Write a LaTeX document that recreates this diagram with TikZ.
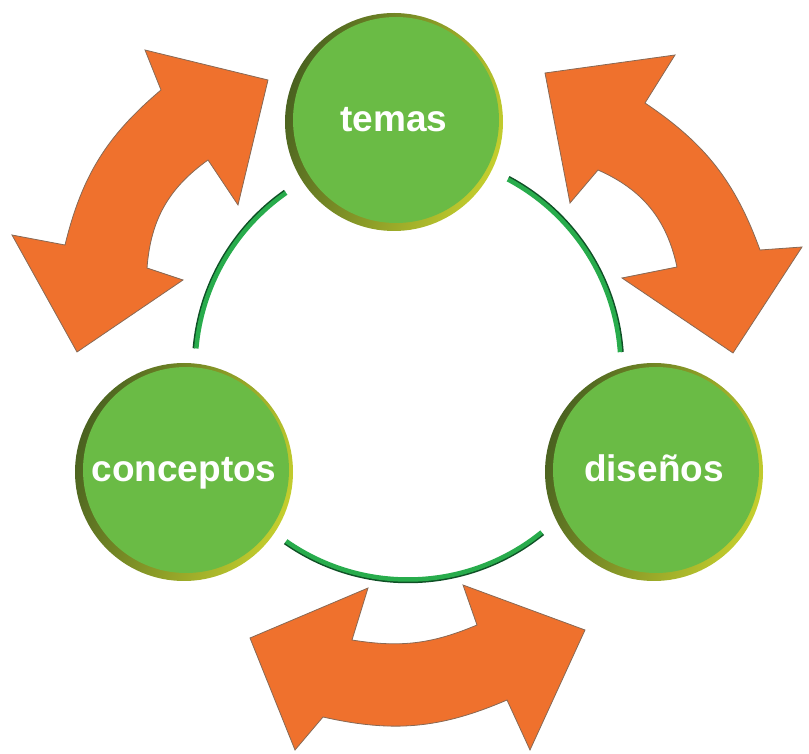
\documentclass[tikz,border=0pt]{standalone}
\usepackage{fontspec}
\usepackage{tikz}
\newfontfamily\ballfont{Liberation Sans}
\definecolor{ballgreen}{RGB}{106,187,69}
\definecolor{balldark}{RGB}{74,98,32}
\definecolor{ballyellow}{RGB}{196,206,46}
\definecolor{arroworange}{RGB}{239,113,45}
\definecolor{arrowedge}{RGB}{135,105,85}
\definecolor{ringgreen}{RGB}{40,172,76}
\definecolor{ringdark}{RGB}{15,80,38}

\begin{document}
\begin{tikzpicture}[line cap=round,line join=round,x=1pt,y=1pt,
    ball/.style={circle,minimum size=218pt,inner sep=0pt,
      left color=balldark,right color=ballyellow,shading angle=70,
      text=white,font=\ballfont\bfseries\fontsize{37}{40}\selectfont,
      text height=19pt,text depth=0pt,
      path picture={\fill [ballgreen] ([shift={(2pt,2pt)}]path picture bounding box.center) circle (103pt);}},
    bigarrow/.style={fill=arroworange,draw=arrowedge,line width=0.8pt,line join=miter},
    ringarc/.style={draw=ringdark,line width=2.5pt,line cap=butt},
    ringtop/.style={draw=ringgreen,line width=4.5pt,line cap=butt}]
        \clip(0,0) rectangle (809,753);
        % curved double arrows
        \draw [bigarrow] (161,663) -- (145,703) -- (268,673) -- (238,548) -- (208,593)
            to [bend right=25] (147,485) -- (183,473) -- (77,401) -- (12,518) -- (65,508)
            to [bend left=18] (161,663) -- cycle;
        \draw [bigarrow] (545,680) -- (675,698) -- (645,650)
            to [bend left=18] (760,503) -- (802,506) -- (733,400) -- (622,475) -- (677,486)
            to [bend right=27] (598,583) -- (570,550) -- cycle;
        \draw [bigarrow] (250,115) -- (368,165) -- (352,113)
            to [bend right=16] (477,128) -- (463,168) -- (585,123) -- (530,3) -- (507,53)
            to [bend left=18] (323,36) -- (295,3) -- cycle;
        % ring
        \coordinate (ring) at (408,386);
        \foreach \a/\b in {125/175,4/62,235/309} {
            \draw [ringarc] (ring) ++(\a:215pt) arc [start angle=\a,end angle=\b,radius=215pt];
            \draw [ringtop] (ring) ++(\a:212.5pt) arc [start angle=\a,end angle=\b,radius=212.5pt];
        }
        % balls
        \node [ball] (temas) at (394,631) {temas};
        \node [ball] (conceptos) at (184,281) {conceptos};
        \node [ball] (disenos) at (654,281) {diseños};
    \end{tikzpicture}
\end{document}
